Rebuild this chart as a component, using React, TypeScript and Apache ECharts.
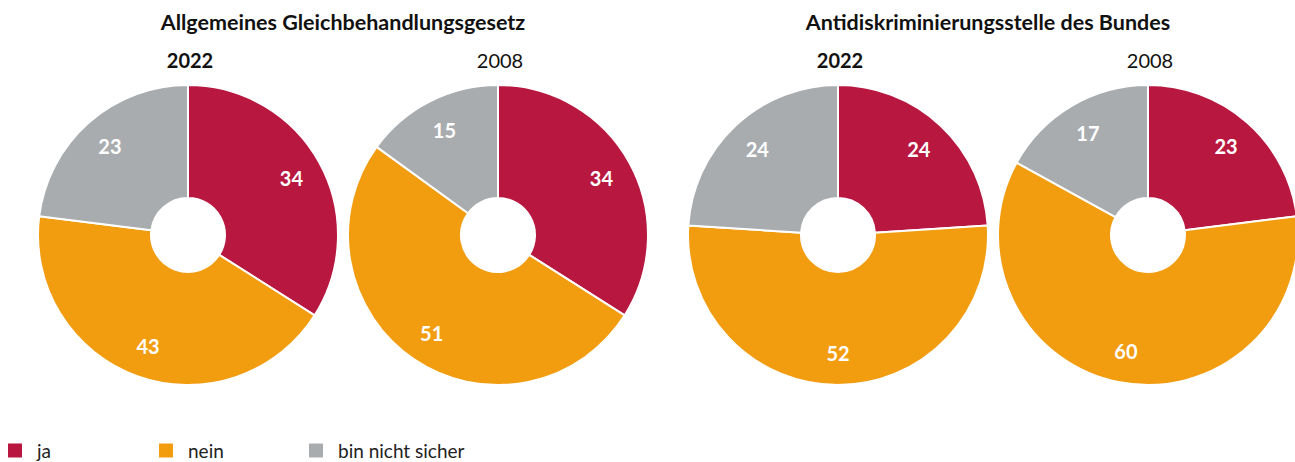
import React, { useEffect, useRef } from "react";
import * as echarts from "echarts";

const categories = ["ja", "nein", "bin nicht sicher"];
const colors = ["#B8173F", "#F29C10", "#A9ACAF"];
const groupTitles = ["Allgemeines Gleichbehandlungsgesetz", "Antidiskriminierungsstelle des Bundes"];
const years = ["2022", "2008", "2022", "2008"];
const agg2022 = [34, 43, 23];
const agg2008 = [34, 51, 15];
const ads2022 = [24, 52, 24];
const ads2008 = [23, 60, 17];
const pieValues = [agg2022, agg2008, ads2022, ads2008];

const FONT = "Lato, 'Noto Sans', sans-serif";
const centersX = [188, 498, 838, 1148];
const centerY = 235;
const groupCenters = [343, 988];
const legendLefts = [6, 157, 307];

export default function App() {
  const ref = useRef<HTMLDivElement>(null);
  useEffect(() => {
    if (!ref.current) return;
    const chart = echarts.init(ref.current, null, { renderer: "svg" });
    const series: any[] = [];
    pieValues.forEach((vals, i) => {
      const data = vals.map((v, j) => ({ name: categories[j], value: v, itemStyle: { color: colors[j] } }));
      series.push({
        type: "pie",
        center: [centersX[i], centerY],
        radius: [37, 150],
        startAngle: 90,
        clockwise: true,
        silent: true,
        data,
        itemStyle: { borderColor: "#fff", borderWidth: 2 },
        label: { show: false },
        labelLine: { show: false },
        emphasis: { disabled: true },
      });
      series.push({
        type: "pie",
        center: [centersX[i], centerY],
        radius: [80, 150],
        startAngle: 90,
        clockwise: true,
        silent: true,
        legendHoverLink: false,
        data: vals.map((v, j) => ({ name: categories[j], value: v, itemStyle: { color: "rgba(0,0,0,0)" } })),
        itemStyle: { borderWidth: 0 },
        label: {
          show: true,
          position: "inside",
          formatter: "{c}",
          color: "#fff",
          fontFamily: FONT,
          fontWeight: "bold",
          fontSize: 20,
        },
        labelLine: { show: false },
        emphasis: { disabled: true },
      });
    });
    const titles: any[] = [];
    groupTitles.forEach((t, i) => {
      titles.push({
        text: t,
        left: groupCenters[i],
        top: 11,
        textAlign: "center",
        padding: 0,
        textStyle: { fontFamily: FONT, fontWeight: "bold", fontSize: 21.5, color: "#111" },
      });
    });
    years.forEach((y, i) => {
      titles.push({
        text: y,
        left: centersX[i] + 2,
        top: 50,
        textAlign: "center",
        padding: 0,
        textStyle: {
          fontFamily: FONT,
          fontWeight: i % 2 === 0 ? "bold" : "normal",
          fontSize: 20,
          color: "#111",
        },
      });
    });
    const legends = categories.map((c, i) => ({
      data: [c],
      left: legendLefts[i],
      top: 441,
      padding: 0,
      icon: "rect",
      itemWidth: 16,
      itemHeight: 16,
      selectedMode: false,
      textStyle: {
        fontFamily: FONT,
        fontSize: 19,
        lineHeight: 19,
        color: "#222",
        padding: [0, 0, 0, 9],
      },
    }));
    chart.setOption({
      animation: false,
      color: colors,
      title: titles,
      legend: legends,
      series,
    });
    return () => chart.dispose();
  }, []);
  return (
    <div
      ref={ref}
      style={{ position: "fixed", left: 0, top: 0, width: 1295, height: 462, background: "#fff" }}
    />
  );
}
